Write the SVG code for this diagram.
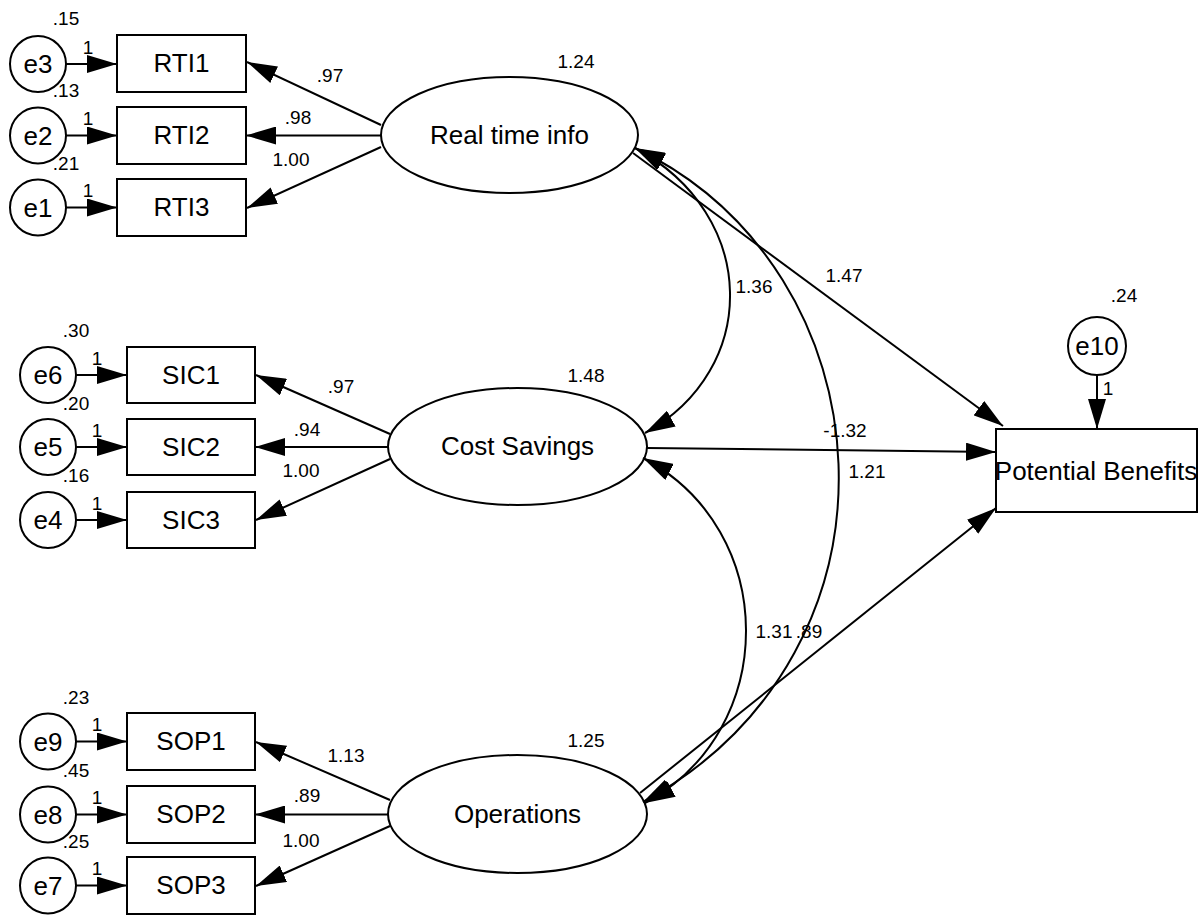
<svg xmlns="http://www.w3.org/2000/svg" width="1204" height="917" viewBox="0 0 1204 917">
<style>
text{font-family:"Liberation Sans",Arial,sans-serif;fill:#000}
.lbl{font-size:26px;text-anchor:middle}
.num{font-size:19px;text-anchor:middle}
.shape{fill:#fff;stroke:#000;stroke-width:2}
.ln{fill:none;stroke:#000;stroke-width:2}
</style>
<defs>
<marker id="ah" viewBox="0 0 30 18" refX="30" refY="9" markerWidth="30" markerHeight="18" markerUnits="userSpaceOnUse" orient="auto-start-reverse">
<path d="M0,0 L30,9 L0,18 z" fill="#000"/>
</marker>
</defs>
<rect width="1204" height="917" fill="#fff"/>

<!-- Latent variables -->
<g id="rti">
<ellipse class="shape" cx="509.5" cy="135" rx="128.5" ry="58"/>
<text class="lbl" x="509.5" y="144">Real time info</text>
<text class="num" x="576" y="68">1.24</text>
</g>
<g id="cs">
<ellipse class="shape" cx="517.5" cy="446.5" rx="129.5" ry="58.5"/>
<text class="lbl" x="517.5" y="455">Cost Savings</text>
<text class="num" x="586" y="382">1.48</text>
</g>
<g id="op">
<ellipse class="shape" cx="517.5" cy="814" rx="129.5" ry="59"/>
<text class="lbl" x="517.5" y="823">Operations</text>
<text class="num" x="586" y="747">1.25</text>
</g>

<!-- Observed: RTI -->
<g id="RTI1"><rect class="shape" x="117" y="35" width="129" height="57"/><text class="lbl" x="181.5" y="72">RTI1</text></g>
<g id="RTI2"><rect class="shape" x="117" y="107" width="129" height="57"/><text class="lbl" x="181.5" y="144">RTI2</text></g>
<g id="RTI3"><rect class="shape" x="117" y="179" width="129" height="57"/><text class="lbl" x="181.5" y="216">RTI3</text></g>
<!-- Observed: SIC -->
<g id="SIC1"><rect class="shape" x="127" y="347" width="128" height="56"/><text class="lbl" x="191" y="384">SIC1</text></g>
<g id="SIC2"><rect class="shape" x="127" y="419" width="128" height="56"/><text class="lbl" x="191" y="456">SIC2</text></g>
<g id="SIC3"><rect class="shape" x="127" y="492" width="128" height="56"/><text class="lbl" x="191" y="529">SIC3</text></g>
<!-- Observed: SOP -->
<g id="SOP1"><rect class="shape" x="127" y="713" width="128" height="57"/><text class="lbl" x="191" y="750">SOP1</text></g>
<g id="SOP2"><rect class="shape" x="127" y="786" width="128" height="57"/><text class="lbl" x="191" y="823">SOP2</text></g>
<g id="SOP3"><rect class="shape" x="127" y="857" width="128" height="57"/><text class="lbl" x="191" y="894">SOP3</text></g>

<!-- Potential Benefits -->
<g id="pb">
<rect class="shape" x="996" y="429" width="201" height="83"/>
<text class="lbl" x="1096" y="480">Potential Benefits</text>
</g>

<!-- Error terms -->
<g id="e3"><circle class="shape" cx="38" cy="64" r="28"/><text class="lbl" x="38" y="73">e3</text><text class="num" x="66" y="25">.15</text><text class="num" x="88" y="54">1</text></g>
<g id="e2"><circle class="shape" cx="38" cy="135.5" r="28"/><text class="lbl" x="38" y="144.5">e2</text><text class="num" x="66" y="97">.13</text><text class="num" x="88" y="125">1</text></g>
<g id="e1"><circle class="shape" cx="38" cy="207.5" r="28"/><text class="lbl" x="38" y="216.5">e1</text><text class="num" x="66" y="170">.21</text><text class="num" x="88" y="197">1</text></g>
<g id="e6"><circle class="shape" cx="48" cy="375" r="28"/><text class="lbl" x="48" y="384">e6</text><text class="num" x="76" y="337">.30</text><text class="num" x="97" y="365">1</text></g>
<g id="e5"><circle class="shape" cx="48" cy="447" r="28"/><text class="lbl" x="48" y="456">e5</text><text class="num" x="76" y="410">.20</text><text class="num" x="97" y="437">1</text></g>
<g id="e4"><circle class="shape" cx="48" cy="520" r="28"/><text class="lbl" x="48" y="529">e4</text><text class="num" x="76" y="482">.16</text><text class="num" x="97" y="510">1</text></g>
<g id="e9"><circle class="shape" cx="48" cy="741.5" r="28"/><text class="lbl" x="48" y="750.5">e9</text><text class="num" x="76" y="704">.23</text><text class="num" x="97" y="731">1</text></g>
<g id="e8"><circle class="shape" cx="48" cy="814.5" r="28"/><text class="lbl" x="48" y="823.5">e8</text><text class="num" x="76" y="777">.45</text><text class="num" x="97" y="804">1</text></g>
<g id="e7"><circle class="shape" cx="48" cy="885.5" r="28"/><text class="lbl" x="48" y="894.5">e7</text><text class="num" x="76" y="848">.25</text><text class="num" x="97" y="875">1</text></g>
<g id="e10"><circle class="shape" cx="1097" cy="346" r="29"/><text class="lbl" x="1097" y="355">e10</text><text class="num" x="1124" y="302">.24</text><text class="num" x="1108" y="395">1</text></g>

<!-- Connectors -->
<g id="connectors" class="ln" marker-end="url(#ah)">
<!-- error to indicator -->
<line x1="66" y1="64" x2="117" y2="64"/>
<line x1="66" y1="135.5" x2="117" y2="135.5"/>
<line x1="66" y1="207.5" x2="117" y2="207.5"/>
<line x1="76" y1="375" x2="127" y2="375"/>
<line x1="76" y1="447" x2="127" y2="447"/>
<line x1="76" y1="520" x2="127" y2="520"/>
<line x1="76" y1="741.5" x2="127" y2="741.5"/>
<line x1="76" y1="814.5" x2="127" y2="814.5"/>
<line x1="76" y1="885.5" x2="127" y2="885.5"/>
<line x1="1097" y1="375" x2="1097" y2="429"/>
<!-- loadings -->
<line x1="381" y1="125" x2="247" y2="62"/>
<line x1="381" y1="135.5" x2="246" y2="135.5"/>
<line x1="381" y1="147" x2="247" y2="208"/>
<line x1="390" y1="434" x2="256" y2="375"/>
<line x1="388" y1="447" x2="255" y2="447"/>
<line x1="390" y1="459" x2="256" y2="520"/>
<line x1="390" y1="800" x2="256" y2="742"/>
<line x1="388" y1="814.5" x2="255" y2="814.5"/>
<line x1="390" y1="826" x2="256" y2="886"/>
<!-- structural paths -->
<line x1="633" y1="153" x2="1003" y2="426"/>
<line x1="647" y1="448" x2="996" y2="452"/>
<line x1="640" y1="793" x2="996" y2="508"/>
<!-- covariances -->
<path d="M635,148 C760,215 760,370 645,433" marker-start="url(#ah)"/>
<path d="M635,148 C890,270 920,650 643,802" marker-start="url(#ah)"/>
<path d="M643,458 C780,530 780,730 645,803" marker-start="url(#ah)"/>
</g>

<!-- Connector labels -->
<g id="edge-labels">
<text class="num" x="330" y="82">.97</text>
<text class="num" x="298" y="124">.98</text>
<text class="num" x="291" y="166">1.00</text>
<text class="num" x="341" y="393">.97</text>
<text class="num" x="307" y="436">.94</text>
<text class="num" x="301" y="477">1.00</text>
<text class="num" x="346" y="762">1.13</text>
<text class="num" x="307" y="802">.89</text>
<text class="num" x="301" y="847">1.00</text>
<text class="num" x="754" y="293">1.36</text>
<text class="num" x="844" y="282">1.47</text>
<text class="num" x="845" y="437">-1.32</text>
<text class="num" x="867" y="478">1.21</text>
<text class="num" x="774" y="638">1.31</text>
<text class="num" x="809" y="638">.89</text>
</g>
</svg>
